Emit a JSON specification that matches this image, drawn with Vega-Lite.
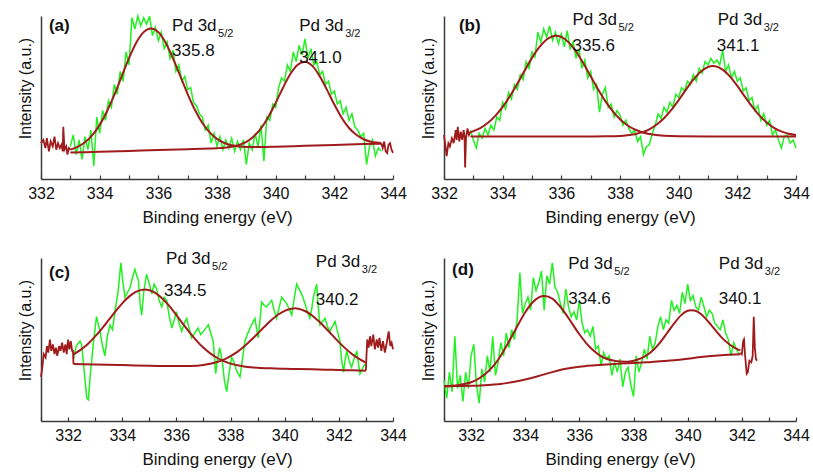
{
"$schema": "https://vega.github.io/schema/vega-lite/v6.json",
"padding": {"left": 17, "top": 10, "right": 5, "bottom": 5},
"columns": 2,
"spacing": {"row": 79, "column": 51},
"bounds": "flush",
"config": {
  "view": {"stroke": null},
  "font": "Liberation Sans",
  "axis": {"grid": false, "domainColor": "#3a3a3a", "domainWidth": 1.5, "tickColor": "#3a3a3a", "tickWidth": 1.2, "labelColor": "#111111", "titleColor": "#111111", "titleFontWeight": "normal", "labelFont": "Liberation Sans", "titleFont": "Liberation Sans"},
  "text": {"font": "Liberation Sans", "color": "#111111"}
},
"datasets": {
  "a_raw": [
    {"x":333.0,"v":20},{"x":333.1,"v":27},{"x":333.2,"v":15},{"x":333.3,"v":24},{"x":333.4,"v":12},{"x":333.5,"v":26},{"x":333.6,"v":18},{"x":333.7,"v":30},{"x":333.8,"v":8},{"x":333.9,"v":38},
    {"x":334.0,"v":28},{"x":334.1,"v":42},{"x":334.2,"v":36},{"x":334.3,"v":48},{"x":334.4,"v":44},{"x":334.5,"v":58},{"x":334.6,"v":52},{"x":334.7,"v":66},{"x":334.8,"v":60},{"x":334.9,"v":78},
    {"x":335.0,"v":70},{"x":335.1,"v":99},{"x":335.2,"v":92},{"x":335.3,"v":100},{"x":335.4,"v":94},{"x":335.5,"v":99},{"x":335.6,"v":95},{"x":335.7,"v":100},{"x":335.8,"v":88},{"x":335.9,"v":93},
    {"x":336.0,"v":85},{"x":336.1,"v":90},{"x":336.2,"v":80},{"x":336.3,"v":84},{"x":336.4,"v":74},{"x":336.5,"v":79},{"x":336.6,"v":66},{"x":336.7,"v":70},{"x":336.8,"v":60},{"x":336.9,"v":63},
    {"x":337.0,"v":55},{"x":337.1,"v":56},{"x":337.2,"v":47},{"x":337.3,"v":45},{"x":337.4,"v":40},{"x":337.5,"v":38},{"x":337.6,"v":30},{"x":337.7,"v":33},{"x":337.8,"v":22},{"x":337.9,"v":28},
    {"x":338.0,"v":20},{"x":338.1,"v":26},{"x":338.2,"v":18},{"x":338.3,"v":24},{"x":338.4,"v":19},{"x":338.5,"v":25},{"x":338.6,"v":17},{"x":338.7,"v":23},{"x":338.8,"v":18},{"x":338.9,"v":24},
    {"x":339.0,"v":9},{"x":339.1,"v":22},{"x":339.2,"v":18},{"x":339.3,"v":28},{"x":339.4,"v":20},{"x":339.5,"v":33},{"x":339.6,"v":11},{"x":339.7,"v":38},{"x":339.8,"v":36},{"x":339.9,"v":46},
    {"x":340.0,"v":44},{"x":340.1,"v":56},{"x":340.2,"v":62},{"x":340.3,"v":60},{"x":340.4,"v":70},{"x":340.5,"v":66},{"x":340.6,"v":78},{"x":340.7,"v":72},{"x":340.8,"v":82},{"x":340.9,"v":76},
    {"x":341.0,"v":86},{"x":341.1,"v":74},{"x":341.2,"v":80},{"x":341.3,"v":70},{"x":341.4,"v":72},{"x":341.5,"v":64},{"x":341.6,"v":66},{"x":341.7,"v":58},{"x":341.8,"v":60},{"x":341.9,"v":52},
    {"x":342.0,"v":54},{"x":342.1,"v":46},{"x":342.2,"v":48},{"x":342.3,"v":40},{"x":342.4,"v":44},{"x":342.5,"v":36},{"x":342.6,"v":40},{"x":342.7,"v":32},{"x":342.8,"v":30},{"x":342.9,"v":26},
    {"x":343.0,"v":28},{"x":343.1,"v":9},{"x":343.2,"v":20},{"x":343.3,"v":24},{"x":343.4,"v":14},{"x":343.5,"v":19},{"x":343.6,"v":17}
  ],
  "a_edge": [
    {"c":"L","x":332.0,"v":22},{"c":"L","x":332.08,"v":24},{"c":"L","x":332.15,"v":19},{"c":"L","x":332.2,"v":25},{"c":"L","x":332.27,"v":17},{"c":"L","x":332.33,"v":23},{"c":"L","x":332.4,"v":20},{"c":"L","x":332.46,"v":26},{"c":"L","x":332.52,"v":18},{"c":"L","x":332.58,"v":22},{"c":"L","x":332.64,"v":19},{"c":"L","x":332.7,"v":21},{"c":"L","x":332.74,"v":17},{"c":"L","x":332.76,"v":32},{"c":"L","x":332.8,"v":18},{"c":"L","x":332.86,"v":20},{"c":"L","x":332.9,"v":15},{"c":"L","x":332.95,"v":19},{"c":"L","x":333.0,"v":18},
    {"c":"R","x":343.6,"v":22},{"c":"R","x":343.65,"v":19},{"c":"R","x":343.7,"v":23},{"c":"R","x":343.75,"v":17},{"c":"R","x":343.8,"v":16},{"c":"R","x":343.85,"v":21},{"c":"R","x":343.9,"v":22},{"c":"R","x":343.95,"v":18},{"c":"R","x":344.0,"v":16}
  ],
  "a_fit": [
    {"c":"p1","x":333.0,"v":18.0},{"c":"p1","x":333.25,"v":19.7},{"c":"p1","x":333.5,"v":22.5},{"c":"p1","x":333.75,"v":26.9},{"c":"p1","x":334.0,"v":33.2},{"c":"p1","x":334.25,"v":41.6},{"c":"p1","x":334.5,"v":51.6},{"c":"p1","x":334.75,"v":62.9},{"c":"p1","x":335.0,"v":74.1},{"c":"p1","x":335.25,"v":83.7},{"c":"p1","x":335.5,"v":90.1},{"c":"p1","x":335.75,"v":92.4},{"c":"p1","x":336.0,"v":90.1},{"c":"p1","x":336.25,"v":83.6},{"c":"p1","x":336.5,"v":74.0},{"c":"p1","x":336.75,"v":63.1},{"c":"p1","x":337.0,"v":52.1},{"c":"p1","x":337.25,"v":42.3},{"c":"p1","x":337.5,"v":34.4},{"c":"p1","x":337.75,"v":28.6},{"c":"p1","x":338.0,"v":24.6},{"c":"p1","x":338.25,"v":22.1},{"c":"p1","x":338.5,"v":20.7},{"c":"p1","x":338.75,"v":20.0},{"c":"p1","x":339.0,"v":19.7},{"c":"p1","x":339.5,"v":19.6},{"c":"p1","x":340.0,"v":19.8},{"c":"p1","x":341.0,"v":20.4},{"c":"p1","x":342.0,"v":20.9},{"c":"p1","x":343.0,"v":21.4},{"c":"p1","x":343.6,"v":21.7},
    {"c":"p2","x":333.0,"v":16.2},{"c":"p2","x":334.0,"v":16.7},{"c":"p2","x":335.0,"v":17.2},{"c":"p2","x":336.0,"v":17.8},{"c":"p2","x":337.0,"v":18.3},{"c":"p2","x":337.5,"v":18.5},{"c":"p2","x":337.75,"v":18.7},{"c":"p2","x":338.0,"v":18.9},{"c":"p2","x":338.25,"v":19.2},{"c":"p2","x":338.5,"v":19.8},{"c":"p2","x":338.75,"v":20.9},{"c":"p2","x":339.0,"v":22.8},{"c":"p2","x":339.25,"v":26.1},{"c":"p2","x":339.5,"v":31.1},{"c":"p2","x":339.75,"v":38.1},{"c":"p2","x":340.0,"v":46.7},{"c":"p2","x":340.25,"v":56.0},{"c":"p2","x":340.5,"v":64.4},{"c":"p2","x":340.75,"v":70.1},{"c":"p2","x":341.0,"v":72.0},{"c":"p2","x":341.25,"v":69.4},{"c":"p2","x":341.5,"v":63.1},{"c":"p2","x":341.75,"v":54.7},{"c":"p2","x":342.0,"v":45.7},{"c":"p2","x":342.25,"v":37.6},{"c":"p2","x":342.5,"v":31.3},{"c":"p2","x":342.75,"v":27.1},{"c":"p2","x":343.0,"v":24.4},{"c":"p2","x":343.25,"v":22.9},{"c":"p2","x":343.5,"v":22.3},{"c":"p2","x":343.6,"v":22.1}
  ],
  "a_txt": [
    {"k":"lab","x":332.27,"v":93.9,"t":"(a)","s":""},
    {"k":"txt","x":336.47,"v":93.9,"t":"Pd 3d","s":"5/2"},
    {"k":"txt","x":336.47,"v":78.8,"t":"335.8","s":""},
    {"k":"txt","x":340.8,"v":93.9,"t":"Pd 3d","s":"3/2"},
    {"k":"txt","x":340.8,"v":74.5,"t":"341.0","s":""}
  ],
  "b_raw": [
    {"x":332.9,"v":30},{"x":333.0,"v":24},{"x":333.1,"v":19},{"x":333.2,"v":28},{"x":333.3,"v":25},{"x":333.4,"v":31},{"x":333.5,"v":27},{"x":333.6,"v":33},{"x":333.7,"v":30},{"x":333.8,"v":38},{"x":333.9,"v":36},
    {"x":334.0,"v":47},{"x":334.1,"v":43},{"x":334.2,"v":53},{"x":334.3,"v":49},{"x":334.4,"v":58},{"x":334.5,"v":55},{"x":334.6,"v":64},{"x":334.7,"v":61},{"x":334.8,"v":72},{"x":334.9,"v":68},
    {"x":335.0,"v":78},{"x":335.1,"v":75},{"x":335.2,"v":90},{"x":335.3,"v":84},{"x":335.4,"v":92},{"x":335.5,"v":87},{"x":335.6,"v":94},{"x":335.7,"v":85},{"x":335.8,"v":90},{"x":335.9,"v":83},
    {"x":336.0,"v":89},{"x":336.1,"v":81},{"x":336.2,"v":91},{"x":336.3,"v":80},{"x":336.4,"v":84},{"x":336.5,"v":74},{"x":336.6,"v":80},{"x":336.7,"v":68},{"x":336.8,"v":73},{"x":336.9,"v":62},
    {"x":337.0,"v":66},{"x":337.1,"v":55},{"x":337.2,"v":58},{"x":337.3,"v":41},{"x":337.4,"v":52},{"x":337.5,"v":56},{"x":337.6,"v":44},{"x":337.7,"v":46},{"x":337.8,"v":38},{"x":337.9,"v":42},
    {"x":338.0,"v":39},{"x":338.1,"v":33},{"x":338.2,"v":36},{"x":338.3,"v":31},{"x":338.4,"v":28},{"x":338.5,"v":30},{"x":338.6,"v":23},{"x":338.7,"v":26},{"x":338.8,"v":15},{"x":338.9,"v":20},
    {"x":339.0,"v":21},{"x":339.1,"v":28},{"x":339.2,"v":33},{"x":339.3,"v":40},{"x":339.4,"v":37},{"x":339.5,"v":44},{"x":339.6,"v":41},{"x":339.7,"v":47},{"x":339.8,"v":44},{"x":339.9,"v":52},
    {"x":340.0,"v":50},{"x":340.1,"v":56},{"x":340.2,"v":54},{"x":340.3,"v":60},{"x":340.4,"v":58},{"x":340.5,"v":64},{"x":340.6,"v":60},{"x":340.7,"v":68},{"x":340.8,"v":65},{"x":340.9,"v":72},
    {"x":341.0,"v":70},{"x":341.1,"v":74},{"x":341.2,"v":71},{"x":341.3,"v":73},{"x":341.4,"v":70},{"x":341.5,"v":79},{"x":341.6,"v":66},{"x":341.7,"v":70},{"x":341.8,"v":62},{"x":341.9,"v":66},
    {"x":342.0,"v":60},{"x":342.1,"v":62},{"x":342.2,"v":54},{"x":342.3,"v":56},{"x":342.4,"v":48},{"x":342.5,"v":50},{"x":342.6,"v":42},{"x":342.7,"v":45},{"x":342.8,"v":36},{"x":342.9,"v":40},
    {"x":343.0,"v":33},{"x":343.1,"v":36},{"x":343.2,"v":27},{"x":343.3,"v":30},{"x":343.4,"v":24},{"x":343.5,"v":19},{"x":343.6,"v":26},{"x":343.7,"v":27},{"x":343.8,"v":22},{"x":343.9,"v":24},{"x":344.0,"v":19}
  ],
  "b_edge": [
    {"c":"L","x":332.0,"v":27},{"c":"L","x":332.05,"v":20},{"c":"L","x":332.09,"v":14},{"c":"L","x":332.15,"v":22},{"c":"L","x":332.2,"v":20},{"c":"L","x":332.27,"v":25},{"c":"L","x":332.33,"v":22},{"c":"L","x":332.4,"v":30},{"c":"L","x":332.43,"v":24},{"c":"L","x":332.47,"v":32},{"c":"L","x":332.52,"v":23},{"c":"L","x":332.57,"v":29},{"c":"L","x":332.62,"v":24},{"c":"L","x":332.67,"v":30},{"c":"L","x":332.7,"v":26},{"c":"L","x":332.72,"v":7},{"c":"L","x":332.75,"v":25},{"c":"L","x":332.8,"v":31},{"c":"L","x":332.85,"v":27},{"c":"L","x":332.9,"v":29}
  ],
  "b_fit": [
    {"c":"p1","x":332.9,"v":28.7},{"c":"p1","x":333.0,"v":29.4},{"c":"p1","x":333.25,"v":31.4},{"c":"p1","x":333.5,"v":34.5},{"c":"p1","x":333.75,"v":38.7},{"c":"p1","x":334.0,"v":44.2},{"c":"p1","x":334.25,"v":50.9},{"c":"p1","x":334.5,"v":58.5},{"c":"p1","x":334.75,"v":66.5},{"c":"p1","x":335.0,"v":74.3},{"c":"p1","x":335.25,"v":80.9},{"c":"p1","x":335.5,"v":85.6},{"c":"p1","x":335.82,"v":87.9},{"c":"p1","x":336.0,"v":87.2},{"c":"p1","x":336.25,"v":83.8},{"c":"p1","x":336.5,"v":78.2},{"c":"p1","x":336.75,"v":71.0},{"c":"p1","x":337.0,"v":63.0},{"c":"p1","x":337.25,"v":55.1},{"c":"p1","x":337.5,"v":47.8},{"c":"p1","x":337.75,"v":41.7},{"c":"p1","x":338.0,"v":36.7},{"c":"p1","x":338.25,"v":33.0},{"c":"p1","x":338.5,"v":30.4},{"c":"p1","x":338.75,"v":28.7},{"c":"p1","x":339.0,"v":27.6},{"c":"p1","x":339.5,"v":26.5},{"c":"p1","x":340.0,"v":26.2},{"c":"p1","x":341.0,"v":26.1},{"c":"p1","x":342.0,"v":26.1},{"c":"p1","x":343.0,"v":26.1},{"c":"p1","x":344.0,"v":26.1},
    {"c":"p2","x":332.9,"v":26.1},{"c":"p2","x":334.0,"v":26.1},{"c":"p2","x":335.0,"v":26.1},{"c":"p2","x":336.0,"v":26.1},{"c":"p2","x":337.0,"v":26.1},{"c":"p2","x":337.5,"v":26.2},{"c":"p2","x":338.0,"v":26.4},{"c":"p2","x":338.25,"v":26.8},{"c":"p2","x":338.5,"v":27.5},{"c":"p2","x":338.75,"v":28.6},{"c":"p2","x":339.0,"v":30.5},{"c":"p2","x":339.25,"v":33.4},{"c":"p2","x":339.5,"v":37.3},{"c":"p2","x":339.75,"v":42.4},{"c":"p2","x":340.0,"v":48.4},{"c":"p2","x":340.25,"v":54.8},{"c":"p2","x":340.5,"v":60.9},{"c":"p2","x":340.75,"v":65.8},{"c":"p2","x":341.0,"v":68.7},{"c":"p2","x":341.17,"v":69.3},{"c":"p2","x":341.25,"v":69.2},{"c":"p2","x":341.5,"v":67.1},{"c":"p2","x":341.75,"v":62.8},{"c":"p2","x":342.0,"v":57.1},{"c":"p2","x":342.25,"v":50.7},{"c":"p2","x":342.5,"v":44.5},{"c":"p2","x":342.75,"v":39.0},{"c":"p2","x":343.0,"v":34.7},{"c":"p2","x":343.25,"v":31.4},{"c":"p2","x":343.5,"v":29.2},{"c":"p2","x":343.75,"v":27.8},{"c":"p2","x":344.0,"v":27.0}
  ],
  "b_txt": [
    {"k":"lab","x":332.51,"v":93.8,"t":"(b)","s":""},
    {"k":"txt","x":336.38,"v":97.8,"t":"Pd 3d","s":"5/2"},
    {"k":"txt","x":336.38,"v":81.8,"t":"335.6","s":""},
    {"k":"txt","x":341.33,"v":97.8,"t":"Pd 3d","s":"3/2"},
    {"k":"txt","x":341.3,"v":81.8,"t":"341.1","s":""}
  ],
  "c_raw": [
    {"x":332.2,"v":38},{"x":332.3,"v":46},{"x":332.44,"v":49},{"x":332.5,"v":47},{"x":332.6,"v":30},{"x":332.69,"v":14},{"x":332.75,"v":13},{"x":332.82,"v":28},{"x":332.93,"v":47},{"x":333.05,"v":64},
    {"x":333.18,"v":55},{"x":333.27,"v":46},{"x":333.36,"v":40},{"x":333.45,"v":52},{"x":333.55,"v":59},{"x":333.64,"v":56},{"x":333.73,"v":67},{"x":333.85,"v":80},{"x":333.95,"v":97},{"x":334.02,"v":86},
    {"x":334.1,"v":76},{"x":334.2,"v":79},{"x":334.29,"v":82},{"x":334.38,"v":88},{"x":334.47,"v":93},{"x":334.54,"v":89},{"x":334.6,"v":86},{"x":334.66,"v":72},{"x":334.72,"v":65},{"x":334.8,"v":80},
    {"x":334.9,"v":90},{"x":335.0,"v":84},{"x":335.09,"v":78},{"x":335.18,"v":84},{"x":335.27,"v":81},{"x":335.36,"v":74},{"x":335.46,"v":70},{"x":335.55,"v":76},{"x":335.64,"v":74},{"x":335.74,"v":64},
    {"x":335.83,"v":57},{"x":335.92,"v":62},{"x":336.0,"v":67},{"x":336.1,"v":60},{"x":336.2,"v":55},{"x":336.29,"v":60},{"x":336.38,"v":63},{"x":336.47,"v":57},{"x":336.56,"v":51},{"x":336.68,"v":54},
    {"x":336.8,"v":57},{"x":336.9,"v":53},{"x":337.0,"v":55},{"x":337.09,"v":57},{"x":337.18,"v":59},{"x":337.27,"v":54},{"x":337.36,"v":49},{"x":337.45,"v":29},{"x":337.52,"v":38},{"x":337.6,"v":45},
    {"x":337.7,"v":36},{"x":337.78,"v":24},{"x":337.86,"v":18},{"x":337.95,"v":30},{"x":338.04,"v":39},{"x":338.13,"v":36},{"x":338.22,"v":31},{"x":338.35,"v":27},{"x":338.44,"v":38},{"x":338.53,"v":49},
    {"x":338.62,"v":53},{"x":338.72,"v":57},{"x":338.81,"v":60},{"x":338.9,"v":63},{"x":338.96,"v":57},{"x":339.02,"v":51},{"x":339.09,"v":62},{"x":339.15,"v":73},{"x":339.24,"v":71},{"x":339.33,"v":70},
    {"x":339.42,"v":72},{"x":339.52,"v":74},{"x":339.61,"v":68},{"x":339.7,"v":63},{"x":339.8,"v":70},{"x":339.89,"v":76},{"x":339.98,"v":74},{"x":340.07,"v":72},{"x":340.16,"v":69},{"x":340.26,"v":65},
    {"x":340.35,"v":75},{"x":340.44,"v":84},{"x":340.5,"v":82},{"x":340.56,"v":80},{"x":340.65,"v":77},{"x":340.75,"v":72},{"x":340.84,"v":67},{"x":340.93,"v":63},{"x":341.0,"v":69},{"x":341.06,"v":76},
    {"x":341.12,"v":80},{"x":341.18,"v":84},{"x":341.24,"v":70},{"x":341.3,"v":59},{"x":341.4,"v":61},{"x":341.49,"v":63},{"x":341.58,"v":58},{"x":341.67,"v":55},{"x":341.76,"v":58},{"x":341.86,"v":61},
    {"x":341.95,"v":55},{"x":342.04,"v":49},{"x":342.1,"v":38},{"x":342.17,"v":30},{"x":342.23,"v":37},{"x":342.29,"v":43},{"x":342.38,"v":37},{"x":342.47,"v":33},{"x":342.56,"v":38},{"x":342.66,"v":43},
    {"x":342.72,"v":36},{"x":342.78,"v":29},{"x":342.87,"v":32},{"x":342.96,"v":35}
  ],
  "c_edge": [
    {"c":"L","x":331.0,"v":27},{"c":"L","x":331.05,"v":33},{"c":"L","x":331.1,"v":41},{"c":"L","x":331.17,"v":39},{"c":"L","x":331.22,"v":46},{"c":"L","x":331.27,"v":42},{"c":"L","x":331.33,"v":50},{"c":"L","x":331.38,"v":43},{"c":"L","x":331.44,"v":47},{"c":"L","x":331.5,"v":41},{"c":"L","x":331.55,"v":45},{"c":"L","x":331.6,"v":40},{"c":"L","x":331.67,"v":46},{"c":"L","x":331.72,"v":43},{"c":"L","x":331.78,"v":48},{"c":"L","x":331.84,"v":42},{"c":"L","x":331.9,"v":47},{"c":"L","x":331.95,"v":41},{"c":"L","x":332.0,"v":50},{"c":"L","x":332.05,"v":44},{"c":"L","x":332.1,"v":49},{"c":"L","x":332.15,"v":43},{"c":"L","x":332.18,"v":43},{"c":"L","x":332.2,"v":35},
    {"c":"R","x":343.0,"v":31},{"c":"R","x":343.02,"v":40},{"c":"R","x":343.05,"v":50},{"c":"R","x":343.1,"v":45},{"c":"R","x":343.15,"v":52},{"c":"R","x":343.2,"v":46},{"c":"R","x":343.27,"v":53},{"c":"R","x":343.33,"v":44},{"c":"R","x":343.4,"v":50},{"c":"R","x":343.45,"v":45},{"c":"R","x":343.5,"v":51},{"c":"R","x":343.57,"v":43},{"c":"R","x":343.63,"v":49},{"c":"R","x":343.7,"v":42},{"c":"R","x":343.77,"v":48},{"c":"R","x":343.84,"v":55},{"c":"R","x":343.9,"v":46},{"c":"R","x":343.95,"v":48},{"c":"R","x":344.0,"v":44}
  ],
  "c_fit": [
    {"c":"p1","x":332.2,"v":40.9},{"c":"p1","x":332.5,"v":44.1},{"c":"p1","x":332.75,"v":47.6},{"c":"p1","x":333.0,"v":51.9},{"c":"p1","x":333.25,"v":56.7},{"c":"p1","x":333.5,"v":62.0},{"c":"p1","x":333.75,"v":67.3},{"c":"p1","x":334.0,"v":72.2},{"c":"p1","x":334.25,"v":76.3},{"c":"p1","x":334.5,"v":79.2},{"c":"p1","x":334.84,"v":80.7},{"c":"p1","x":335.0,"v":80.2},{"c":"p1","x":335.25,"v":78.3},{"c":"p1","x":335.5,"v":74.8},{"c":"p1","x":335.75,"v":70.3},{"c":"p1","x":336.0,"v":65.0},{"c":"p1","x":336.25,"v":59.4},{"c":"p1","x":336.5,"v":54.1},{"c":"p1","x":336.75,"v":49.2},{"c":"p1","x":337.0,"v":44.9},{"c":"p1","x":337.25,"v":41.5},{"c":"p1","x":337.5,"v":38.8},{"c":"p1","x":337.75,"v":36.7},{"c":"p1","x":338.0,"v":35.2},{"c":"p1","x":338.25,"v":34.2},{"c":"p1","x":338.5,"v":33.5},{"c":"p1","x":338.75,"v":33.0},{"c":"p1","x":339.0,"v":32.7},{"c":"p1","x":339.5,"v":32.3},{"c":"p1","x":340.0,"v":32.0},{"c":"p1","x":340.5,"v":31.9},{"c":"p1","x":341.0,"v":31.7},{"c":"p1","x":341.5,"v":31.5},{"c":"p1","x":342.0,"v":31.3},{"c":"p1","x":342.5,"v":31.1},{"c":"p1","x":343.0,"v":30.9},
    {"c":"p2","x":332.2,"v":35.0},{"c":"p2","x":333.0,"v":34.7},{"c":"p2","x":334.0,"v":34.3},{"c":"p2","x":335.0,"v":33.9},{"c":"p2","x":336.0,"v":33.7},{"c":"p2","x":336.5,"v":33.8},{"c":"p2","x":337.0,"v":34.4},{"c":"p2","x":337.25,"v":35.1},{"c":"p2","x":337.5,"v":36.2},{"c":"p2","x":337.75,"v":37.7},{"c":"p2","x":338.0,"v":39.8},{"c":"p2","x":338.25,"v":42.4},{"c":"p2","x":338.5,"v":45.7},{"c":"p2","x":338.75,"v":49.5},{"c":"p2","x":339.0,"v":53.6},{"c":"p2","x":339.25,"v":57.8},{"c":"p2","x":339.5,"v":61.8},{"c":"p2","x":339.75,"v":65.2},{"c":"p2","x":340.0,"v":67.6},{"c":"p2","x":340.25,"v":68.9},{"c":"p2","x":340.38,"v":69.1},{"c":"p2","x":340.5,"v":68.9},{"c":"p2","x":340.75,"v":67.5},{"c":"p2","x":341.0,"v":64.9},{"c":"p2","x":341.25,"v":61.3},{"c":"p2","x":341.5,"v":57.2},{"c":"p2","x":341.75,"v":52.8},{"c":"p2","x":342.0,"v":48.4},{"c":"p2","x":342.25,"v":44.4},{"c":"p2","x":342.5,"v":40.9},{"c":"p2","x":342.75,"v":38.1},{"c":"p2","x":343.0,"v":35.8}
  ],
  "c_txt": [
    {"k":"lab","x":331.3,"v":90.5,"t":"(c)","s":""},
    {"k":"txt","x":335.62,"v":99.1,"t":"Pd 3d","s":"5/2"},
    {"k":"txt","x":335.54,"v":79.6,"t":"334.5","s":""},
    {"k":"txt","x":341.15,"v":97.3,"t":"Pd 3d","s":"3/2"},
    {"k":"txt","x":341.15,"v":74.1,"t":"340.2","s":""}
  ],
  "d_raw": [
    {"x":331.0,"v":25},{"x":331.1,"v":14},{"x":331.2,"v":30},{"x":331.3,"v":18},{"x":331.4,"v":52},{"x":331.5,"v":20},{"x":331.6,"v":28},{"x":331.7,"v":12},{"x":331.8,"v":30},{"x":331.9,"v":20},
    {"x":332.0,"v":40},{"x":332.1,"v":47},{"x":332.2,"v":22},{"x":332.3,"v":11},{"x":332.4,"v":32},{"x":332.5,"v":24},{"x":332.6,"v":40},{"x":332.7,"v":30},{"x":332.8,"v":52},{"x":332.9,"v":28},
    {"x":333.0,"v":36},{"x":333.1,"v":48},{"x":333.2,"v":40},{"x":333.3,"v":54},{"x":333.4,"v":45},{"x":333.5,"v":56},{"x":333.6,"v":50},{"x":333.7,"v":62},{"x":333.8,"v":91},{"x":333.9,"v":66},
    {"x":334.0,"v":72},{"x":334.1,"v":76},{"x":334.2,"v":68},{"x":334.3,"v":88},{"x":334.4,"v":80},{"x":334.5,"v":85},{"x":334.6,"v":92},{"x":334.7,"v":68},{"x":334.8,"v":89},{"x":334.9,"v":84},
    {"x":335.0,"v":97},{"x":335.1,"v":82},{"x":335.2,"v":79},{"x":335.3,"v":72},{"x":335.4,"v":66},{"x":335.5,"v":81},{"x":335.6,"v":70},{"x":335.7,"v":64},{"x":335.8,"v":67},{"x":335.9,"v":62},
    {"x":336.0,"v":74},{"x":336.1,"v":60},{"x":336.2,"v":54},{"x":336.3,"v":56},{"x":336.4,"v":52},{"x":336.5,"v":58},{"x":336.6,"v":44},{"x":336.7,"v":46},{"x":336.8,"v":34},{"x":336.9,"v":42},
    {"x":337.0,"v":38},{"x":337.1,"v":40},{"x":337.2,"v":28},{"x":337.3,"v":36},{"x":337.4,"v":30},{"x":337.5,"v":38},{"x":337.6,"v":21},{"x":337.7,"v":30},{"x":337.8,"v":33},{"x":337.9,"v":22},
    {"x":338.0,"v":15},{"x":338.1,"v":40},{"x":338.2,"v":30},{"x":338.3,"v":36},{"x":338.4,"v":44},{"x":338.5,"v":38},{"x":338.6,"v":52},{"x":338.7,"v":44},{"x":338.8,"v":48},{"x":338.9,"v":58},
    {"x":339.0,"v":64},{"x":339.1,"v":56},{"x":339.2,"v":62},{"x":339.3,"v":60},{"x":339.4,"v":74},{"x":339.5,"v":68},{"x":339.6,"v":71},{"x":339.7,"v":66},{"x":339.8,"v":79},{"x":339.9,"v":72},
    {"x":340.0,"v":84},{"x":340.1,"v":74},{"x":340.2,"v":77},{"x":340.3,"v":70},{"x":340.4,"v":68},{"x":340.5,"v":76},{"x":340.6,"v":70},{"x":340.7,"v":64},{"x":340.8,"v":68},{"x":340.9,"v":66},
    {"x":341.0,"v":60},{"x":341.1,"v":58},{"x":341.2,"v":56},{"x":341.3,"v":62},{"x":341.4,"v":54},{"x":341.5,"v":50},{"x":341.6,"v":40},{"x":341.7,"v":48},{"x":341.8,"v":44},{"x":341.9,"v":41}
  ],
  "d_edge": [
    {"c":"R","x":341.95,"v":42},{"c":"R","x":342.0,"v":41},{"c":"R","x":342.05,"v":49},{"c":"R","x":342.08,"v":50},{"c":"R","x":342.12,"v":40},{"c":"R","x":342.18,"v":29},{"c":"R","x":342.22,"v":30},{"c":"R","x":342.28,"v":37},{"c":"R","x":342.35,"v":36},{"c":"R","x":342.4,"v":40},{"c":"R","x":342.44,"v":64},{"c":"R","x":342.48,"v":45},{"c":"R","x":342.52,"v":38},{"c":"R","x":342.56,"v":37}
  ],
  "d_fit": [
    {"c":"env","x":331.0,"v":21.3},{"c":"env","x":331.25,"v":21.6},{"c":"env","x":331.5,"v":22.0},{"c":"env","x":331.75,"v":22.7},{"c":"env","x":332.0,"v":23.8},{"c":"env","x":332.25,"v":25.7},{"c":"env","x":332.5,"v":28.5},{"c":"env","x":332.75,"v":32.4},{"c":"env","x":333.0,"v":37.6},{"c":"env","x":333.25,"v":44.3},{"c":"env","x":333.5,"v":51.8},{"c":"env","x":333.75,"v":59.5},{"c":"env","x":334.0,"v":66.7},{"c":"env","x":334.25,"v":72.4},{"c":"env","x":334.5,"v":75.9},{"c":"env","x":334.7,"v":76.7},{"c":"env","x":335.0,"v":75.1},{"c":"env","x":335.25,"v":71.0},{"c":"env","x":335.5,"v":65.6},{"c":"env","x":335.75,"v":59.3},{"c":"env","x":336.0,"v":53.2},{"c":"env","x":336.25,"v":47.8},{"c":"env","x":336.5,"v":43.5},{"c":"env","x":336.75,"v":40.3},{"c":"env","x":337.0,"v":38.2},{"c":"env","x":337.25,"v":37.1},{"c":"env","x":337.5,"v":36.5},{"c":"env","x":337.75,"v":36.4},{"c":"env","x":338.0,"v":37.0},{"c":"env","x":338.25,"v":38.3},{"c":"env","x":338.5,"v":40.5},{"c":"env","x":338.75,"v":43.9},{"c":"env","x":339.0,"v":48.6},{"c":"env","x":339.25,"v":54.2},{"c":"env","x":339.5,"v":59.9},{"c":"env","x":339.75,"v":64.8},{"c":"env","x":340.0,"v":67.6},{"c":"env","x":340.1,"v":68.0},{"c":"env","x":340.25,"v":67.8},{"c":"env","x":340.5,"v":65.5},{"c":"env","x":340.75,"v":61.2},{"c":"env","x":341.0,"v":56.2},{"c":"env","x":341.25,"v":51.3},{"c":"env","x":341.5,"v":47.5},{"c":"env","x":341.75,"v":44.7},{"c":"env","x":341.95,"v":43.3},
    {"c":"base","x":331.0,"v":21.2},{"c":"base","x":331.5,"v":21.4},{"c":"base","x":332.0,"v":21.6},{"c":"base","x":332.5,"v":22.0},{"c":"base","x":333.0,"v":22.5},{"c":"base","x":333.5,"v":23.8},{"c":"base","x":334.0,"v":25.5},{"c":"base","x":334.5,"v":27.6},{"c":"base","x":335.0,"v":30.0},{"c":"base","x":335.5,"v":32.0},{"c":"base","x":336.0,"v":33.3},{"c":"base","x":336.5,"v":34.1},{"c":"base","x":337.0,"v":34.7},{"c":"base","x":337.5,"v":35.2},{"c":"base","x":338.0,"v":35.6},{"c":"base","x":338.5,"v":36.1},{"c":"base","x":339.0,"v":36.6},{"c":"base","x":339.5,"v":37.3},{"c":"base","x":340.0,"v":38.2},{"c":"base","x":340.5,"v":39.2},{"c":"base","x":341.0,"v":40.0},{"c":"base","x":341.5,"v":40.6},{"c":"base","x":341.95,"v":41.0}
  ],
  "d_txt": [
    {"k":"lab","x":331.3,"v":92.4,"t":"(d)","s":""},
    {"k":"txt","x":335.59,"v":96.6,"t":"Pd 3d","s":"5/2"},
    {"k":"txt","x":335.59,"v":74.7,"t":"334.6","s":""},
    {"k":"txt","x":341.15,"v":96.6,"t":"Pd 3d","s":"3/2"},
    {"k":"txt","x":341.15,"v":74.7,"t":"340.1","s":""}
  ]
},
"concat": [
  {
    "width": 352, "height": 163,
    "encoding": {
      "x": {"field": "x", "type": "quantitative", "scale": {"domain": [332, 344]}, "axis": {"title": "Binding energy (eV)", "values": [332,333,334,335,336,337,338,339,340,341,342,343,344], "labelExpr": "datum.value % 2 == 0 ? datum.label : ''", "labelOverlap": false, "labelFlush": false, "tickSize": -4, "labelPadding": 10, "labelFontSize": 16, "titleFontSize": 17, "titlePadding": 8}},
      "y": {"field": "v", "type": "quantitative", "scale": {"domain": [0, 100]}, "axis": {"title": "Intensity (a.u.)", "labels": false, "ticks": false, "titleFontSize": 16, "titlePadding": 8, "titleY": 72}}
    },
    "layer": [
      {"data": {"name": "a_raw"}, "mark": {"type": "line", "color": "#22f022", "strokeWidth": 1.5}},
      {"data": {"name": "a_edge"}, "mark": {"type": "line", "color": "#a01c1c", "strokeWidth": 1.8}, "encoding": {"detail": {"field": "c"}}},
      {"data": {"name": "a_fit"}, "mark": {"type": "line", "color": "#a01c1c", "strokeWidth": 2, "interpolate": "monotone"}, "encoding": {"detail": {"field": "c"}}},
      {"data": {"name": "a_txt"}, "transform": [{"filter": "datum.k == 'txt'"}], "mark": {"type": "text", "align": "left", "baseline": "middle", "fontSize": 17}, "encoding": {"text": {"field": "t"}}},
      {"data": {"name": "a_txt"}, "transform": [{"filter": "datum.k == 'txt'"}], "mark": {"type": "text", "align": "left", "baseline": "middle", "fontSize": 11, "dx": 46, "dy": 8}, "encoding": {"text": {"field": "s"}}},
      {"data": {"name": "a_txt"}, "transform": [{"filter": "datum.k == 'lab'"}], "mark": {"type": "text", "align": "left", "baseline": "middle", "fontSize": 17, "fontWeight": "bold"}, "encoding": {"text": {"field": "t"}}}
    ]
  },
  {
    "width": 352, "height": 163,
    "encoding": {
      "x": {"field": "x", "type": "quantitative", "scale": {"domain": [332, 344]}, "axis": {"title": "Binding energy (eV)", "values": [332,333,334,335,336,337,338,339,340,341,342,343,344], "labelExpr": "datum.value % 2 == 0 ? datum.label : ''", "labelOverlap": false, "labelFlush": false, "tickSize": -4, "labelPadding": 10, "labelFontSize": 16, "titleFontSize": 17, "titlePadding": 8}},
      "y": {"field": "v", "type": "quantitative", "scale": {"domain": [0, 100]}, "axis": {"title": "Intensity (a.u.)", "labels": false, "ticks": false, "titleFontSize": 16, "titlePadding": 8, "titleY": 72}}
    },
    "layer": [
      {"data": {"name": "b_raw"}, "mark": {"type": "line", "color": "#22f022", "strokeWidth": 1.5}},
      {"data": {"name": "b_edge"}, "mark": {"type": "line", "color": "#a01c1c", "strokeWidth": 1.8}, "encoding": {"detail": {"field": "c"}}},
      {"data": {"name": "b_fit"}, "mark": {"type": "line", "color": "#a01c1c", "strokeWidth": 2, "interpolate": "monotone"}, "encoding": {"detail": {"field": "c"}}},
      {"data": {"name": "b_txt"}, "transform": [{"filter": "datum.k == 'txt'"}], "mark": {"type": "text", "align": "left", "baseline": "middle", "fontSize": 17}, "encoding": {"text": {"field": "t"}}},
      {"data": {"name": "b_txt"}, "transform": [{"filter": "datum.k == 'txt'"}], "mark": {"type": "text", "align": "left", "baseline": "middle", "fontSize": 11, "dx": 46, "dy": 8}, "encoding": {"text": {"field": "s"}}},
      {"data": {"name": "b_txt"}, "transform": [{"filter": "datum.k == 'lab'"}], "mark": {"type": "text", "align": "left", "baseline": "middle", "fontSize": 17, "fontWeight": "bold"}, "encoding": {"text": {"field": "t"}}}
    ]
  },
  {
    "width": 352, "height": 163,
    "encoding": {
      "x": {"field": "x", "type": "quantitative", "scale": {"domain": [331, 344]}, "axis": {"title": "Binding energy (eV)", "values": [331,332,333,334,335,336,337,338,339,340,341,342,343,344], "labelExpr": "datum.value % 2 == 0 ? datum.label : ''", "labelOverlap": false, "labelFlush": false, "tickSize": -4, "labelPadding": 10, "labelFontSize": 16, "titleFontSize": 17, "titlePadding": 8}},
      "y": {"field": "v", "type": "quantitative", "scale": {"domain": [0, 100]}, "axis": {"title": "Intensity (a.u.)", "labels": false, "ticks": false, "titleFontSize": 16, "titlePadding": 8, "titleY": 72}}
    },
    "layer": [
      {"data": {"name": "c_raw"}, "mark": {"type": "line", "color": "#22f022", "strokeWidth": 1.5}},
      {"data": {"name": "c_edge"}, "mark": {"type": "line", "color": "#a01c1c", "strokeWidth": 1.8}, "encoding": {"detail": {"field": "c"}}},
      {"data": {"name": "c_fit"}, "mark": {"type": "line", "color": "#a01c1c", "strokeWidth": 2, "interpolate": "monotone"}, "encoding": {"detail": {"field": "c"}}},
      {"data": {"name": "c_txt"}, "transform": [{"filter": "datum.k == 'txt'"}], "mark": {"type": "text", "align": "left", "baseline": "middle", "fontSize": 17}, "encoding": {"text": {"field": "t"}}},
      {"data": {"name": "c_txt"}, "transform": [{"filter": "datum.k == 'txt'"}], "mark": {"type": "text", "align": "left", "baseline": "middle", "fontSize": 11, "dx": 46, "dy": 8}, "encoding": {"text": {"field": "s"}}},
      {"data": {"name": "c_txt"}, "transform": [{"filter": "datum.k == 'lab'"}], "mark": {"type": "text", "align": "left", "baseline": "middle", "fontSize": 17, "fontWeight": "bold"}, "encoding": {"text": {"field": "t"}}}
    ]
  },
  {
    "width": 352, "height": 163,
    "encoding": {
      "x": {"field": "x", "type": "quantitative", "scale": {"domain": [331, 344]}, "axis": {"title": "Binding energy (eV)", "values": [331,332,333,334,335,336,337,338,339,340,341,342,343,344], "labelExpr": "datum.value % 2 == 0 ? datum.label : ''", "labelOverlap": false, "labelFlush": false, "tickSize": -4, "labelPadding": 10, "labelFontSize": 16, "titleFontSize": 17, "titlePadding": 8}},
      "y": {"field": "v", "type": "quantitative", "scale": {"domain": [0, 100]}, "axis": {"title": "Intensity (a.u.)", "labels": false, "ticks": false, "titleFontSize": 16, "titlePadding": 8, "titleY": 72}}
    },
    "layer": [
      {"data": {"name": "d_raw"}, "mark": {"type": "line", "color": "#22f022", "strokeWidth": 1.5}},
      {"data": {"name": "d_edge"}, "mark": {"type": "line", "color": "#a01c1c", "strokeWidth": 1.8}, "encoding": {"detail": {"field": "c"}}},
      {"data": {"name": "d_fit"}, "mark": {"type": "line", "color": "#a01c1c", "strokeWidth": 2, "interpolate": "monotone"}, "encoding": {"detail": {"field": "c"}}},
      {"data": {"name": "d_txt"}, "transform": [{"filter": "datum.k == 'txt'"}], "mark": {"type": "text", "align": "left", "baseline": "middle", "fontSize": 17}, "encoding": {"text": {"field": "t"}}},
      {"data": {"name": "d_txt"}, "transform": [{"filter": "datum.k == 'txt'"}], "mark": {"type": "text", "align": "left", "baseline": "middle", "fontSize": 11, "dx": 46, "dy": 8}, "encoding": {"text": {"field": "s"}}},
      {"data": {"name": "d_txt"}, "transform": [{"filter": "datum.k == 'lab'"}], "mark": {"type": "text", "align": "left", "baseline": "middle", "fontSize": 17, "fontWeight": "bold"}, "encoding": {"text": {"field": "t"}}}
    ]
  }
]
}
